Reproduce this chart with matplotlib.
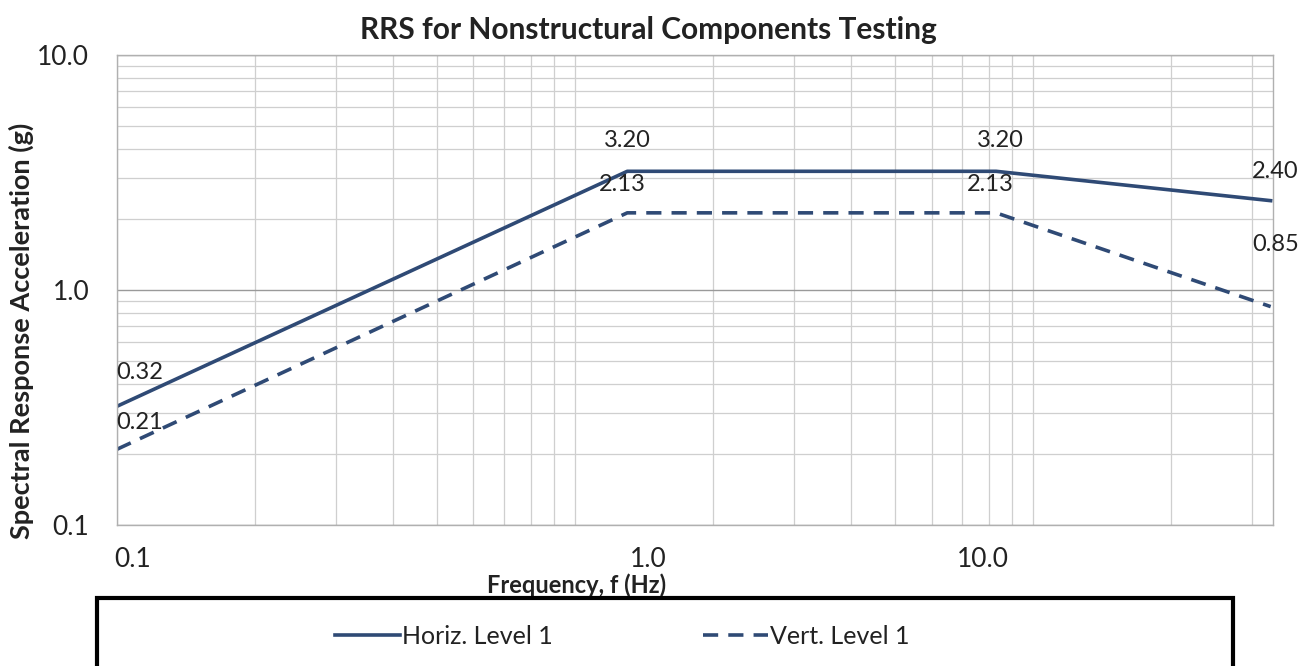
import matplotlib.pyplot as plt
from matplotlib.patches import Rectangle
from matplotlib.transforms import ScaledTranslation
from matplotlib.ticker import FixedLocator, NullFormatter

plt.rcParams['font.family'] = ['Lato', 'DejaVu Sans']

# data
freq = [0.1, 1.3, 8.3, 33]
horiz = [0.32, 3.20, 3.20, 2.40]
vert = [0.21, 2.13, 2.13, 0.85]
horiz_labels = ['0.32', '3.20', '3.20', '2.40']
vert_labels = ['0.21', '2.13', '2.13', '0.85']

navy = '#2f4a75'
txt = '#222222'

fig = plt.figure(figsize=(13.1, 6.66), dpi=100)
ax = fig.add_axes([0.0893, 0.2117, 0.8825, 0.7057])

ax.plot(freq, horiz, color=navy, lw=2.6, label='Horiz. Level 1')
ax.plot(freq, vert, color=navy, lw=2.6, ls=(0, (4.2, 2.8)), label='Vert. Level 1')

ax.set_xscale('log')
ax.set_yscale('log')
ax.set_xlim(0.1, 33.4)
ax.set_ylim(0.1, 10)

# grid
minor = [m * 10.0 ** e for e in (-1, 0, 1) for m in range(2, 10)]
ax.xaxis.set_minor_locator(FixedLocator(minor))
ax.yaxis.set_minor_locator(FixedLocator(minor))
ax.xaxis.set_minor_formatter(NullFormatter())
ax.yaxis.set_minor_formatter(NullFormatter())
ax.grid(which='minor', color='#cfcfcf', lw=0.9)
ax.xaxis.grid(which='major', color='#cfcfcf', lw=0.9)
ax.yaxis.grid(which='major', color='#9a9a9a', lw=1.0)
ax.set_axisbelow(True)
for s in ax.spines.values():
    s.set_color('#b0b0b0')
    s.set_linewidth(1.0)

ax.set_xticks([0.1, 1, 10])
ax.set_xticklabels(['0.1', '1.0', '10.0'])
ax.set_yticks([0.1, 1, 10])
ax.set_yticklabels(['0.1', '1.0', '10.0'])
ax.tick_params(which='both', length=0, labelsize=19, colors=txt)
ax.tick_params(axis='y', pad=20)
ax.tick_params(axis='x', pad=16)
# x tick labels sit off their gridlines in the original
for lab, dx in zip(ax.get_xticklabels(), [16, 73, -50]):
    lab.set_transform(lab.get_transform() + ScaledTranslation(dx / 100, 0, fig.dpi_scale_trans))

# data labels
h_off = [(23, 34), (0, 31), (4, 31), (5, 29)]
v_off = [(23, 27), (-5, 28), (-6, 28), (5, 62)]
for x, y, t, o in zip(freq, horiz, horiz_labels, h_off):
    ax.annotate(t, (x, y), xytext=o, textcoords='offset pixels',
                ha='center', va='center', fontsize=17, color=txt)
for x, y, t, o in zip(freq, vert, vert_labels, v_off):
    ax.annotate(t, (x, y), xytext=o, textcoords='offset pixels',
                ha='center', va='center', fontsize=17, color=txt)

fig.text(0.495, 0.955, 'RRS for Nonstructural Components Testing', ha='center', va='center',
         fontsize=21.5, fontweight='bold', color=txt)
fig.text(0.016, 0.503, 'Spectral Response Acceleration (g)', rotation=90, ha='center', va='center',
         fontsize=19.5, fontweight='bold', color=txt)
fig.text(0.44, 0.122, 'Frequency, f (Hz)', ha='center', va='center',
         fontsize=17, fontweight='bold', color=txt)

# legend box
fig.patches.append(Rectangle((0.074, -0.05), 0.867, 0.152, transform=fig.transFigure,
                             facecolor='white', edgecolor='black', lw=3, zorder=5))
leg = fig.legend(loc='center', bbox_to_anchor=(0.475, 0.045), ncol=2, frameon=False,
                 fontsize=18, handlelength=2.6, handletextpad=0.1, columnspacing=6.0)
leg.set_zorder(6)
for t in leg.get_texts():
    t.set_color(txt)

fig.savefig('out.png', dpi=100)
